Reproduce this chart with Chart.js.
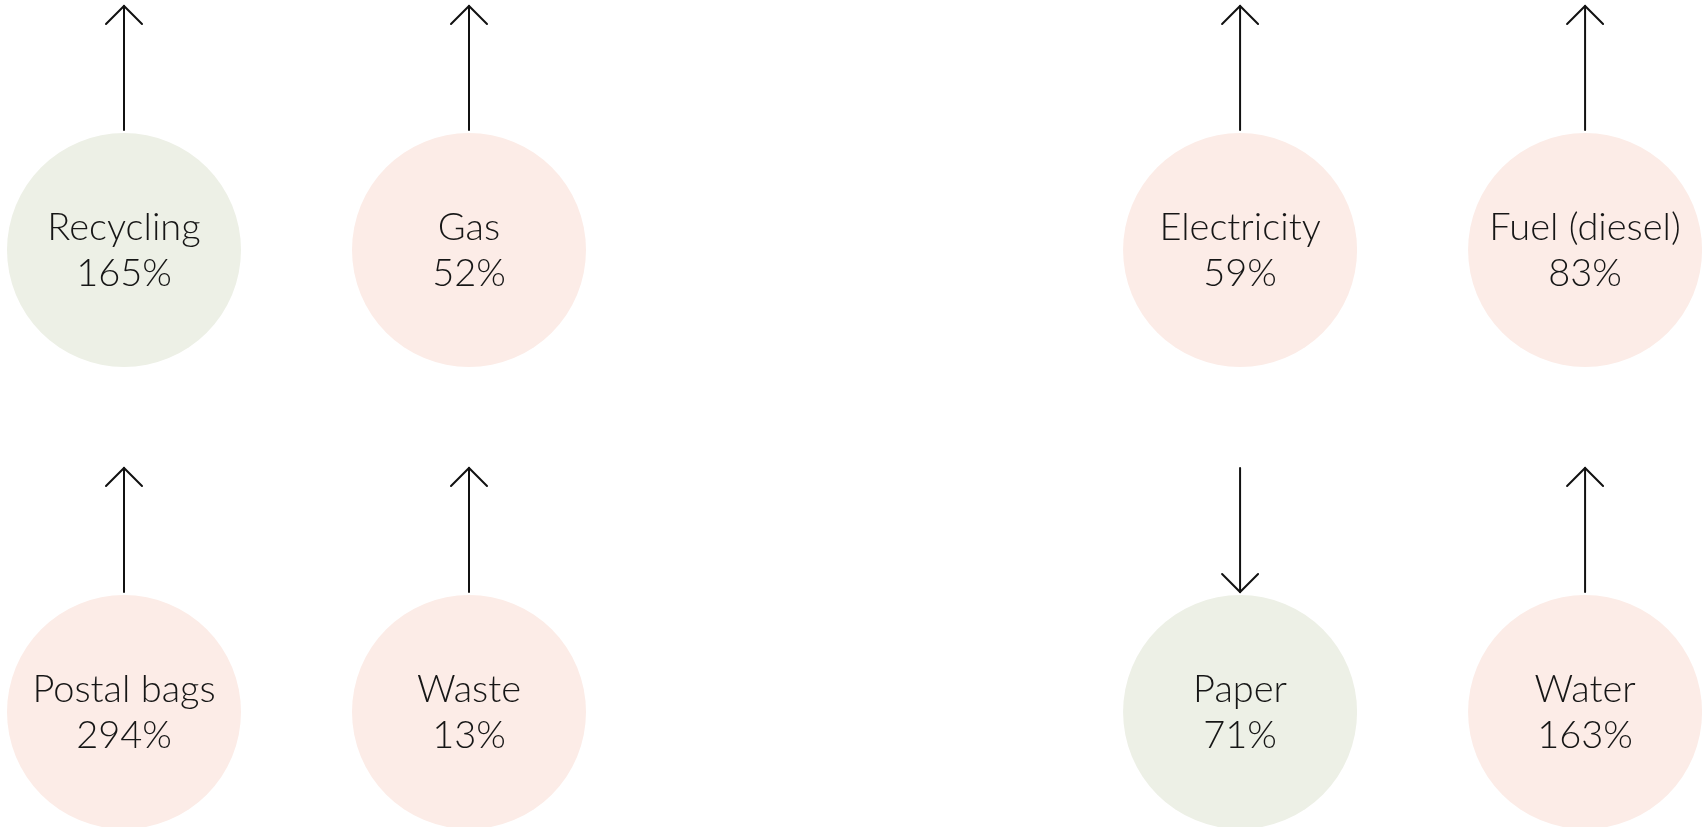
<!DOCTYPE html>
<html>
<head>
<meta charset="utf-8">
<script src="https://cdn.jsdelivr.net/npm/chart.js@4"></script>
<style>
  html, body { margin: 0; padding: 0; background: #ffffff; }
  #wrap { width: 1704px; height: 827px; }
</style>
</head>
<body>
<div id="wrap"><canvas id="myChart"></canvas></div>
<script>
// change since baseline, top row first, then bottom row
const categories = ['Recycling', 'Gas', 'Electricity', 'Fuel (diesel)', 'Postal bags', 'Waste', 'Paper', 'Water'];
const changes = [165, 52, 59, 83, 294, 13, 71, 163];
const directions = ['up', 'up', 'up', 'up', 'up', 'up', 'down', 'up'];
const favourable = [true, false, false, false, false, false, true, false];

const GOOD = '#edf0e6';
const BAD = '#fcece7';
const RADIUS = 117;
const GROUP_GAP = 3.235; // distance between left and right pair, in column units

const points = categories.map((c, i) => {
    const col = i % 4;
    return { x: (col % 2) + Math.floor(col / 2) * GROUP_GAP, y: Math.floor(i / 4) };
});

const arrowsAndText = {
    id: 'arrowsAndText',
    afterDatasetsDraw(chart) {
        const { ctx } = chart;
        const meta = chart.getDatasetMeta(0);
        ctx.save();
        meta.data.forEach((pt, i) => {
            const top = pt.y - RADIUS - 3;
            const end = top - 124;
            ctx.strokeStyle = '#111111';
            ctx.lineWidth = 2;
            ctx.lineCap = 'round';
            ctx.lineJoin = 'miter';
            ctx.beginPath();
            ctx.moveTo(pt.x, top);
            ctx.lineTo(pt.x, end);
            ctx.stroke();
            const tip = directions[i] === 'up' ? end : top;
            const s = directions[i] === 'up' ? 1 : -1;
            ctx.beginPath();
            ctx.moveTo(pt.x - 18, tip + s * 18);
            ctx.lineTo(pt.x, tip);
            ctx.lineTo(pt.x + 18, tip + s * 18);
            ctx.stroke();

            ctx.fillStyle = '#161616';
            ctx.font = '300 38px Lato';
            ctx.textAlign = 'center';
            ctx.textBaseline = 'middle';
            ctx.fillText(categories[i], pt.x, pt.y - 22);
            ctx.fillText(changes[i] + '%', pt.x, pt.y + 24);
        });
        ctx.restore();
    }
};

new Chart(document.getElementById('myChart'), {
    type: 'scatter',
    data: {
        datasets: [{
            data: points,
            backgroundColor: favourable.map(f => (f ? GOOD : BAD)),
            borderWidth: 0,
            pointRadius: RADIUS,
            pointHoverRadius: RADIUS,
            clip: false,
        }]
    },
    options: {
        responsive: true,
        maintainAspectRatio: false,
        animation: false,
        events: [],
        layout: { padding: 0, autoPadding: false },
        plugins: { legend: { display: false }, tooltip: { enabled: false } },
        scales: {
            x: { type: 'linear', display: false, min: -124 / 345, max: (1704 - 124) / 345 },
            y: { type: 'linear', display: false, reverse: true, min: -250 / 462, max: (827 - 250) / 462 },
        },
    },
    plugins: [arrowsAndText],
});
</script>
</body>
</html>
